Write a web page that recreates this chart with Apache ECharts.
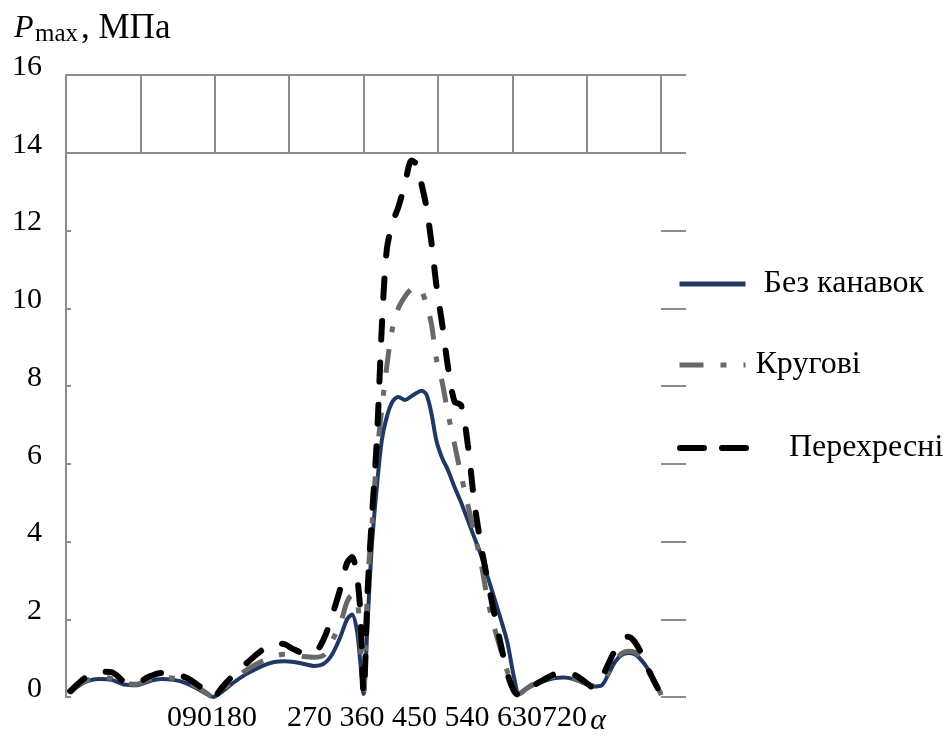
<!DOCTYPE html>
<html>
<head>
<meta charset="utf-8">
<script src="https://cdn.jsdelivr.net/npm/echarts@6/dist/echarts.min.js"></script>
<style>
  html, body { margin: 0; padding: 0; background: #fff; }
  #chart { width: 948px; height: 742px; }
</style>
</head>
<body>
<div id="chart"></div>
<script>
// Crank angle, degrees
const alpha = [5, 15, 25, 40, 55, 70, 85, 100, 115, 130, 145, 160, 170, 178, 190, 202, 215, 228, 240, 252,
  264, 276, 288, 300, 312, 322, 332, 340, 346, 352, 356, 360, 365, 370, 376, 382, 388, 395, 402, 410,
  418, 424, 430, 436, 442, 448, 455, 462, 470, 478, 486, 494, 502, 510, 518, 526, 534, 542, 548, 556,
  566, 578, 590, 602, 614, 626, 638, 648, 656, 664, 672, 680, 688, 696, 704, 712, 720];

// Maximum pressure, MPa
const bezKanavok = [0.10, 0.28, 0.40, 0.46, 0.44, 0.32, 0.30, 0.40, 0.46, 0.44, 0.36, 0.20, 0.08, 0.00, 0.16, 0.36, 0.55, 0.70, 0.82, 0.90,
  0.92, 0.90, 0.85, 0.80, 0.86, 1.10, 1.55, 2.00, 2.12, 1.70, 0.90, 0.08, 2.00, 3.90, 5.40, 6.60, 7.20, 7.60, 7.72, 7.64,
  7.74, 7.82, 7.88, 7.78, 7.30, 6.60, 6.15, 5.84, 5.40, 5.00, 4.55, 4.10, 3.65, 3.10, 2.55, 2.00, 1.40, 0.50, 0.10, 0.20,
  0.31, 0.41, 0.48, 0.50, 0.46, 0.36, 0.27, 0.30, 0.58, 0.90, 1.08, 1.13, 1.10, 0.95, 0.72, 0.42, 0.05];

const krugovi = [0.12, 0.30, 0.42, 0.50, 0.48, 0.35, 0.33, 0.44, 0.50, 0.48, 0.40, 0.24, 0.10, 0.00, 0.20, 0.42, 0.65, 0.82, 0.95, 1.05,
  1.10, 1.08, 1.04, 1.02, 1.08, 1.45, 1.90, 2.45, 2.62, 2.55, 1.40, 0.10, 3.00, 4.40, 6.20, 7.40, 8.50, 9.50, 10.00, 10.30,
  10.50, 10.55, 10.45, 10.10, 9.60, 8.70, 8.10, 7.30, 6.50, 5.70, 4.95, 4.20, 3.45, 2.50, 1.80, 1.20, 0.65, 0.18, 0.08, 0.20,
  0.34, 0.45, 0.52, 0.52, 0.47, 0.38, 0.28, 0.32, 0.62, 0.92, 1.12, 1.18, 1.15, 1.00, 0.74, 0.42, 0.06];

const perekhresni = [0.15, 0.35, 0.52, 0.65, 0.64, 0.40, 0.36, 0.52, 0.62, 0.60, 0.50, 0.30, 0.12, 0.00, 0.28, 0.55, 0.80, 1.05, 1.25, 1.38,
  1.36, 1.22, 1.13, 1.14, 1.50, 2.10, 2.80, 3.45, 3.60, 3.10, 2.20, 0.10, 2.80, 4.60, 6.60, 9.50, 11.50, 12.20, 12.60, 13.20,
  13.80, 13.70, 13.20, 12.60, 11.70, 10.60, 9.60, 8.50, 7.60, 7.50, 6.50, 5.00, 3.90, 3.00, 2.15, 1.35, 0.60, 0.15, 0.05, 0.15,
  0.30, 0.45, 0.58, 0.62, 0.58, 0.42, 0.25, 0.50, 0.85, 1.20, 1.45, 1.55, 1.42, 1.12, 0.72, 0.38, 0.06];

const seriesNames = ['Без канавок', 'Кругові', 'Перехресні'];
const xTickLabels = ['0', '90', '180', '270', '360', '450', '540', '630', '720'];
const xLabelJoins = ['', '', '    ', ' ', ' ', ' ', ' ', ''];

const SERIF = "'Times New Roman', 'Liberation Serif', serif";
const AXIS_GRAY = '#8c8c8c';

const xLabelText = xTickLabels.reduce((s, t, i) => s + (i > 0 ? xLabelJoins[i - 1] : '') + t, '');

const pairs = vals => alpha.map((a, i) => [a, vals[i]]);

const lineStyles = [
  { color: '#203864', width: 4 },
  { color: '#686868', width: 5, type: [24, 17, 6, 17] },
  { color: '#000000', width: 6, type: [19, 23], cap: 'round' }
];
const legendLineStyles = [
  { color: '#203864', width: 5, type: 'solid' },
  { color: '#686868', width: 5, type: [24, 17, 6, 17] },
  { color: '#000000', width: 6, type: [24, 18] }
];
const seriesData = [bezKanavok, krugovi, perekhresni];

// horizontal grid lines only at the two top levels (14 and 16)
const splitColors = [];
for (let v = 0; v <= 16; v += 2) splitColors.push(v >= 14 ? AXIS_GRAY : 'rgba(0,0,0,0)');

const legendTops = [268, 349, 432];
const legendTextShift = [13, 5, 38];

const chart = echarts.init(document.getElementById('chart'));
chart.setOption({
  animation: false,
  backgroundColor: '#ffffff',
  grid: [
    { left: 66, top: 75, width: 620, height: 622 },
    { left: 66, top: 75, width: 620, height: 78 }
  ],
  xAxis: [
    {
      gridIndex: 0, type: 'value', min: 0, max: 750, interval: 90,
      axisLine: { show: false }, axisTick: { show: false }, axisLabel: { show: false }, splitLine: { show: false }
    },
    {
      gridIndex: 1, type: 'value', min: 0, max: 750, interval: 90,
      axisLine: { show: false }, axisTick: { show: false }, axisLabel: { show: false },
      splitLine: { show: true, showMaxLine: false, lineStyle: { color: AXIS_GRAY, width: 2 } }
    }
  ],
  yAxis: [
    {
      gridIndex: 0, type: 'value', min: 0, max: 16, interval: 2,
      axisLine: { show: true, lineStyle: { color: AXIS_GRAY, width: 2 } },
      axisTick: { show: true, inside: true, length: 5, lineStyle: { color: AXIS_GRAY, width: 2 } },
      axisLabel: { margin: 24, color: '#000', fontSize: 30, fontFamily: SERIF, verticalAlign: 'bottom', lineHeight: 16 },
      splitLine: { show: true, lineStyle: { color: splitColors, width: 2 } }
    },
    {
      gridIndex: 0, type: 'value', position: 'right', min: 0, max: 16, interval: 2,
      axisLine: { show: false },
      axisTick: { show: true, inside: true, length: 25, lineStyle: { color: AXIS_GRAY, width: 2 } },
      axisLabel: { show: false }, splitLine: { show: false }
    },
    { gridIndex: 1, type: 'value', min: 14, max: 16, show: false }
  ],
  legend: seriesNames.map((name, i) => ({
    data: [name],
    left: 677, top: legendTops[i], padding: 0,
    itemWidth: 66, itemHeight: 12,
    itemStyle: { color: 'rgba(0,0,0,0)', borderWidth: 0, opacity: 0 },
    lineStyle: legendLineStyles[i],
    textStyle: { fontSize: 32, fontFamily: SERIF, color: '#000', padding: [0, 0, 0, legendTextShift[i]] }
  })),
  series: seriesNames.map((name, i) => ({
    name: name,
    type: 'line',
    xAxisIndex: 0, yAxisIndex: 0,
    data: pairs(seriesData[i]),
    smooth: 0.3,
    symbol: 'none',
    color: lineStyles[i].color,
    lineStyle: lineStyles[i],
    z: 2 + i
  })),
  graphic: [
    { type: 'text', left: 14, top: 13, style: { text: 'P', fontSize: 32, fontStyle: 'italic', fontFamily: SERIF, fill: '#000' } },
    { type: 'text', left: 35, top: 22, style: { text: 'max', fontSize: 25, fontFamily: SERIF, fill: '#000' } },
    { type: 'text', left: 81, top: 11, style: { text: ', МПа', fontSize: 35, fontFamily: SERIF, fill: '#000' } },
    {
      type: 'text', left: 167, top: 703,
      style: {
        text: '{n|' + xLabelText + '} {a|α}',
        rich: {
          n: { fontSize: 30, fontFamily: SERIF, fill: '#000' },
          a: { fontSize: 30, fontFamily: SERIF, fontStyle: 'italic', fill: '#000', padding: [6, 0, 0, 0] }
        }
      }
    }
  ]
});
</script>
</body>
</html>
